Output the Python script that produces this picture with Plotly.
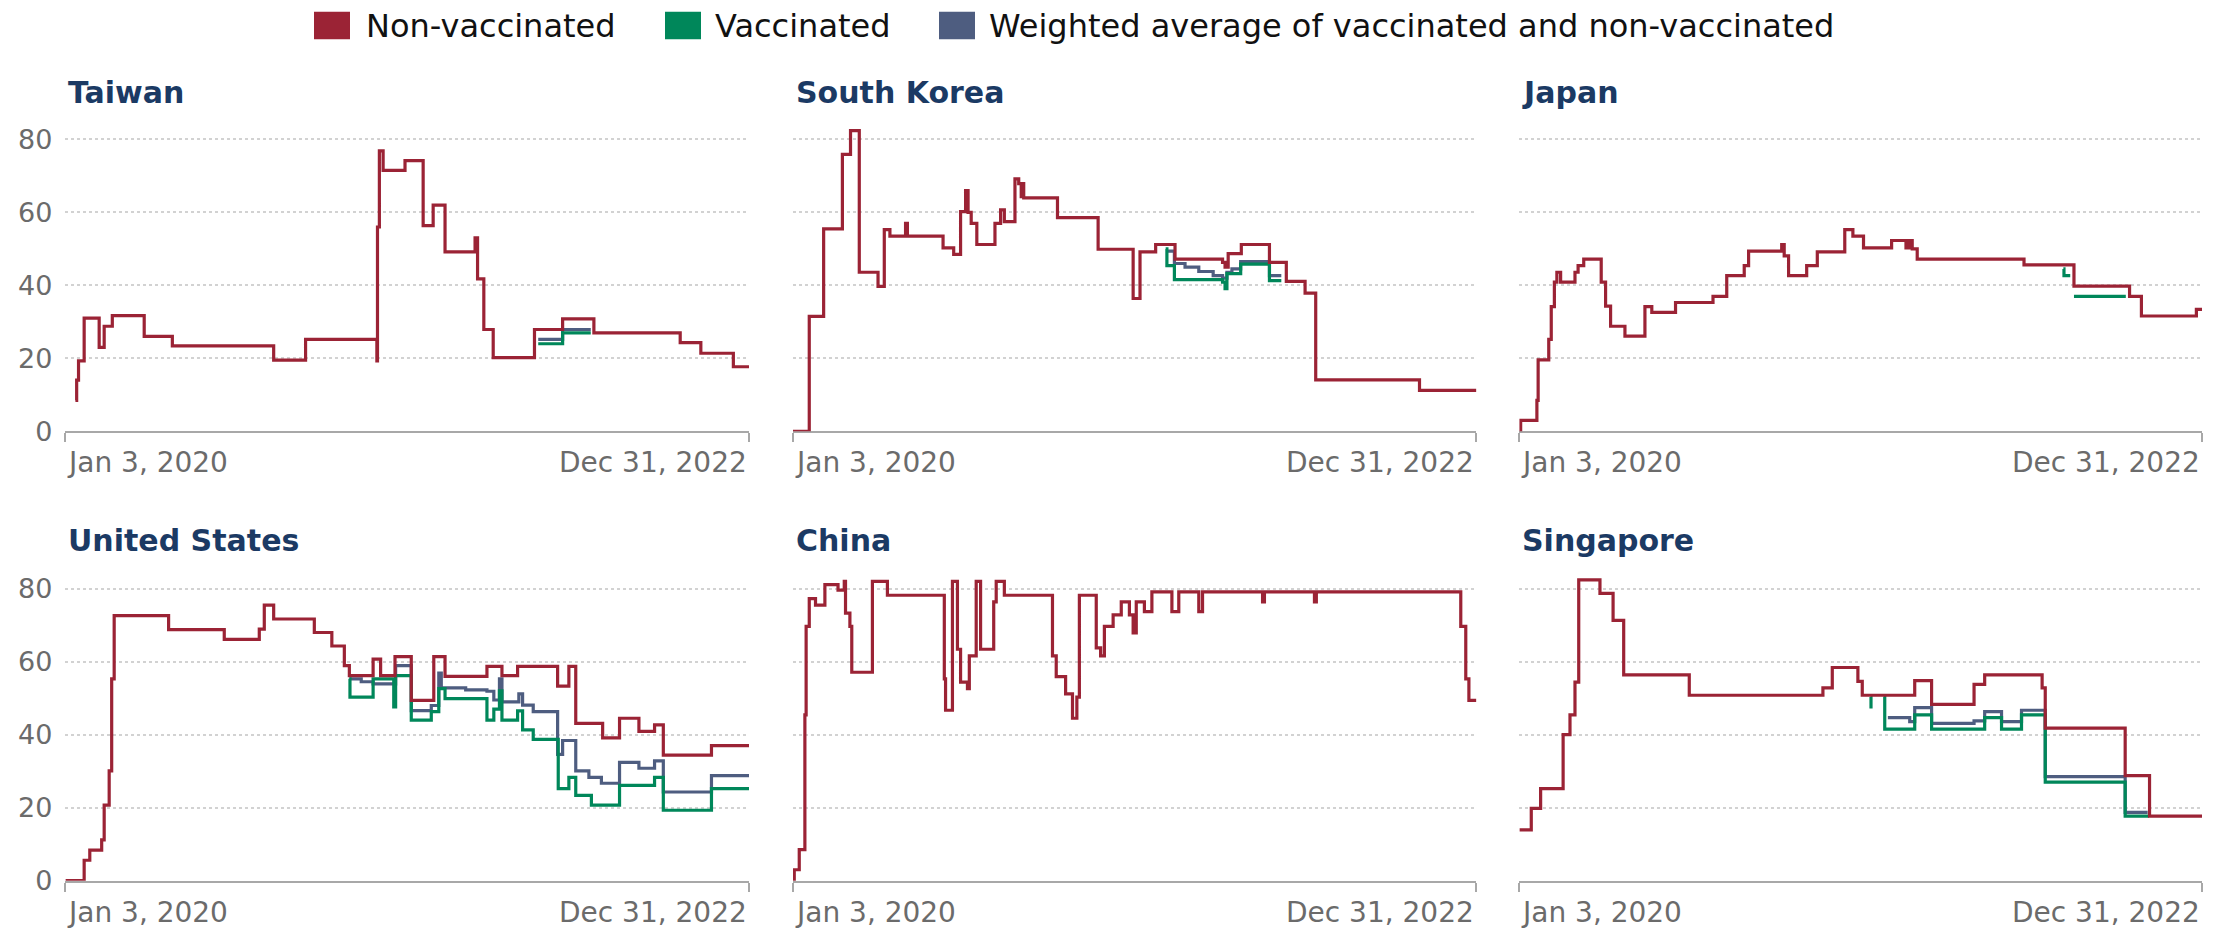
import pandas as pd
import plotly.graph_objects as go
from plotly.subplots import make_subplots

# ---------------- data (x = days since Jan 3, 2020) ----------------
START = "2020-01-03"
END = "2022-12-31"

countries = ["Taiwan", "South Korea", "Japan", "United States", "China", "Singapore"]
series_names = ["Non-vaccinated", "Vaccinated", "Weighted average of vaccinated and non-vaccinated"]
x_tick_labels = ["Jan 3, 2020", "Dec 31, 2022"]
y_ticks = [0, 20, 40, 60, 80]

tw_day = [16, 18, 21, 30, 54, 62, 75, 126, 171, 333, 384, 498, 499, 502, 508, 543, 572, 588, 607, 655, 659, 669, 684, 750, 795, 845, 983, 1016, 1068, 1093]
tw_non = [8.5, 14, 19.3, 31, 23, 28.8, 31.7, 26, 23.4, 19.5, 25.2, 19.3, 56, 76.9, 71.5, 74.2, 56.4, 62, 49.2, 53, 41.8, 27.9, 20.2, 27.9, 30.8, 27, 24.3, 21.4, 17.7, 17.7]
tw_vac_day = [756, 795, 840]
tw_vac = [24, 27, 27]
tw_avg_day = [756, 795, 840]
tw_avg = [25.2, 27.9, 27.9]

kr_day = [0, 26, 49, 79, 92, 106, 136, 146, 155, 180, 183, 240, 257, 268, 276, 280, 285, 294, 323, 332, 338, 355, 361, 365, 367, 369, 423, 488, 544, 555, 580, 611, 687, 691, 696, 717, 762, 789, 819, 836, 1002, 1093]
kr_non = [0, 31.5, 55.5, 75.9, 82.4, 43.6, 39.7, 55.3, 53.5, 57, 53.5, 50.3, 48.5, 60.2, 66, 60, 57, 51.2, 57, 60.7, 57.5, 69.2, 67.9, 64.3, 67.9, 64, 58.6, 49.9, 36.4, 49.2, 51.2, 47.2, 46.3, 45, 48.7, 51.2, 46.3, 41.1, 37.9, 14.1, 11.2, 11.2]
kr_vac_day = [596, 598, 610, 687, 691, 694, 716, 762, 781]
kr_vac = [50, 45.4, 41.6, 40.9, 39.1, 43.2, 45.8, 41.3, 41.3]
kr_avg_day = [598, 610, 627, 649, 672, 687, 694, 702, 716, 762, 781]
kr_avg = [49.4, 46, 45, 43.8, 42.7, 42, 43.6, 44.5, 46.5, 42.7, 42.7]

jp_day = [0, 2, 28, 30, 47, 51, 56, 60, 66, 89, 94, 103, 131, 138, 146, 169, 201, 212, 250, 310, 332, 360, 367, 420, 424, 431, 460, 477, 521, 534, 551, 596, 619, 624, 629, 637, 808, 888, 977, 996, 1084, 1093]
jp_non = [0, 3, 8.5, 19.6, 25.2, 34.2, 40.9, 43.6, 40.9, 43.6, 45.4, 47.2, 40.9, 34.3, 28.8, 26.1, 34.2, 32.6, 35.3, 37, 42.7, 45.4, 49.4, 51.2, 48.1, 42.7, 45.4, 49.2, 55.3, 53.5, 50.3, 52.3, 50.3, 52.3, 50, 47.2, 45.6, 39.8, 37, 31.6, 33.4, 33.4]
jp_vac_day = [871, 872, 882, None, 888, 971]
jp_vac = [44.5, 42.7, 42.7, None, 37, 37]
jp_avg_day = []
jp_avg = []

us_day = [0, 30, 39, 58, 62, 70, 74, 78, 165, 254, 310, 318, 333, 398, 426, 446, 454, 492, 504, 527, 553, 589, 607, 674, 698, 723, 787, 805, 816, 859, 886, 917, 942, 956, 1033, 1093]
us_non = [0, 5.6, 8.4, 11.2, 20.7, 30.1, 55.3, 72.6, 68.8, 66.1, 68.9, 75.5, 71.7, 68, 64.3, 58.9, 56.2, 60.7, 56.2, 61.4, 49.4, 61.4, 56, 58.7, 56.2, 58.7, 53.3, 58.7, 43.1, 39.1, 44.5, 40.9, 42.7, 34.4, 37, 37]
us_vac_day = [454, 455, 492, 525, 528, 553, 585, 597, 607, 674, 685, 694, 698, 723, 731, 748, 788, 805, 816, 841, 886, 942, 956, 1033, 1093]
us_vac = [55.3, 50.3, 55.3, 47.6, 56.2, 44, 46.3, 52.6, 49.9, 44, 47, 52, 44, 46.5, 41.3, 38.7, 25.2, 28.3, 23.4, 20.7, 26.1, 28.3, 19.3, 25.2, 25.2]
us_avg_day = [454, 473, 492, 528, 553, 585, 597, 601, 640, 674, 685, 694, 698, 725, 731, 748, 787, 795, 816, 837, 857, 886, 917, 942, 956, 1033, 1093]
us_avg = [55.3, 54.5, 53.9, 58.9, 46.6, 48, 56.9, 52.8, 52.3, 51.9, 49.5, 55.3, 49, 51.2, 48.1, 46.3, 34.6, 38.4, 30.1, 28.3, 26.7, 32.4, 30.8, 32.8, 24.3, 28.8, 28.8]

cn_day = [0, 2, 10, 19, 21, 26, 36, 51, 72, 82, 84, 91, 94, 127, 151, 242, 244, 255, 263, 268, 279, 282, 293, 300, 321, 325, 338, 415, 421, 436, 447, 454, 458, 485, 492, 498, 512, 525, 538, 544, 549, 562, 574, 606, 617, 649, 655, 751, 754, 834, 837, 1068, 1076, 1081, 1093]
cn_non = [0, 3, 8.5, 45.4, 69.7, 77.3, 75.5, 81.1, 79.6, 82, 73.3, 69.7, 57.1, 82, 78.2, 55.3, 46.7, 82, 63.4, 54.4, 52.6, 61.6, 82, 63.4, 76.4, 82, 78.2, 61.6, 55.9, 51.2, 44.5, 50.3, 78.2, 63.8, 61.6, 69.7, 72.8, 76.4, 72.8, 67.9, 76.4, 73.7, 79.1, 73.7, 79.1, 73.7, 79.1, 76.4, 79.1, 76.4, 79.1, 69.7, 55.3, 49.4, 49.4]
cn_vac_day = []
cn_vac = []
cn_avg_day = []
cn_avg = []

sg_day = [0, 19, 34, 70, 81, 89, 95, 129, 150, 167, 272, 486, 501, 542, 549, 633, 660, 728, 745, 837, 842, 970, 1009, 1093]
sg_non = [13.9, 19.8, 25.2, 40, 45.4, 54.4, 82.4, 78.7, 71.3, 56.4, 50.8, 52.8, 58.4, 54.6, 50.8, 54.8, 48.3, 53.8, 56.4, 52.8, 41.8, 28.8, 17.7, 17.7]
sg_vac_day = [562, 563, None, 583, 585, 633, 660, 745, 772, 804, 842, 970, 1008]
sg_vac = [50.3, 47.2, None, 50.3, 41.5, 45.4, 41.5, 44.7, 41.5, 45.4, 27, 17.7, 17.7]
sg_avg_day = [590, 625, 633, 660, 728, 745, 772, 804, 842, 970, 1006]
sg_avg = [44.7, 43.6, 47.4, 43.1, 43.8, 46.3, 43.6, 46.7, 28.5, 18.7, 18.7]

panel_data = [
    (tw_day, tw_non, tw_vac_day, tw_vac, tw_avg_day, tw_avg),
    (kr_day, kr_non, kr_vac_day, kr_vac, kr_avg_day, kr_avg),
    (jp_day, jp_non, jp_vac_day, jp_vac, jp_avg_day, jp_avg),
    (us_day, us_non, us_vac_day, us_vac, us_avg_day, us_avg),
    (cn_day, cn_non, cn_vac_day, cn_vac, cn_avg_day, cn_avg),
    (sg_day, sg_non, sg_vac_day, sg_vac, sg_avg_day, sg_avg),
]

# ---------------- style ----------------
W, H = 2225, 938
RED = "#9b2335"
GREEN = "#00875a"
BLUE = "#4e5d80"
TITLE_C = "#1b3a64"
TICK_C = "#6b6b6b"
FONT = "DejaVu Sans, Arial, sans-serif"

COL_X = [(65.4, 749.0), (793.0, 1476.4), (1519.4, 2202.0)]   # px
ROW_Y = [(123.2, 438.3), (579.7, 895.0)]                      # px (top, bottom)
TITLE_Y = [94, 549]
Y_MAX = 85

t0 = pd.Timestamp(START)


def to_dates(days):
    return [None if d is None else (t0 + pd.Timedelta(days=d)).strftime("%Y-%m-%d") for d in days]


fig = make_subplots(rows=2, cols=3)

for i, (name, (d_non, v_non, d_vac, v_vac, d_avg, v_avg)) in enumerate(zip(countries, panel_data)):
    r, c = i // 3 + 1, i % 3 + 1
    for d, v, col, nm in ((d_avg, v_avg, BLUE, series_names[2]),
                          (d_vac, v_vac, GREEN, series_names[1]),
                          (d_non, v_non, RED, series_names[0])):
        if not d:
            continue
        fig.add_trace(go.Scatter(x=to_dates(d), y=v, mode="lines", name=nm,
                                 line=dict(color=col, width=3.2, shape="hv"),
                                 connectgaps=False, cliponaxis=False, showlegend=False,
                                 hoverinfo="skip"), row=r, col=c)

annotations = []
shapes = []
for i, name in enumerate(countries):
    r, c = i // 3, i % 3
    k = "" if i == 0 else str(i + 1)
    x0, x1 = COL_X[c]
    ytop, ybot = ROW_Y[r]
    fig.layout["xaxis" + k].update(
        domain=[x0 / W, x1 / W], type="date", range=[START, END],
        showgrid=False, showline=True, linecolor="#a8a8a8", linewidth=2,
        tickmode="array", tickvals=[START, END], ticks="outside", ticklen=9,
        tickwidth=2, tickcolor="#a8a8a8", showticklabels=False,
        zeroline=False, layer="below traces", fixedrange=True)
    fig.layout["yaxis" + k].update(
        domain=[1 - ybot / H, 1 - ytop / H], range=[0, Y_MAX],
        tickmode="array", tickvals=y_ticks, ticktext=[str(t) for t in y_ticks],
        showgrid=True, gridcolor="#d2d2d2", gridwidth=1.5, griddash="dot",
        zeroline=False, showline=False, ticks="",
        showticklabels=(c == 0), ticklabelstandoff=12,
        tickfont=dict(family=FONT, size=27, color=TICK_C),
        layer="below traces", fixedrange=True)
    # panel title
    annotations.append(dict(text="<b>%s</b>" % name, xref="paper", yref="paper",
                            x=(x0 + 1) / W, y=1 - TITLE_Y[r] / H, xanchor="left", yanchor="middle",
                            showarrow=False, font=dict(family=FONT, size=30, color=TITLE_C)))
    # x tick labels (first left aligned, last right aligned)
    xr = "x" + k
    yr = "y" + k + " domain"
    annotations.append(dict(text=x_tick_labels[0], xref=xr, yref=yr, x=START, y=0,
                            xanchor="left", yanchor="top", yshift=-13, showarrow=False,
                            font=dict(family=FONT, size=28, color=TICK_C)))
    annotations.append(dict(text=x_tick_labels[1], xref=xr, yref=yr, x=END, y=0,
                            xanchor="right", yanchor="top", yshift=-13, showarrow=False,
                            font=dict(family=FONT, size=28, color=TICK_C)))

# legend (drawn manually: square swatches + labels)
legend_items = [(RED, 314, 364), (GREEN, 665, 713), (BLUE, 939, 987)]
for (col, sx, tx), nm in zip(legend_items, series_names):
    shapes.append(dict(type="rect", xref="paper", yref="paper",
                       x0=sx / W, x1=(sx + 36) / W, y0=1 - 40 / H, y1=1 - 12 / H,
                       fillcolor=col, line=dict(width=0)))
    annotations.append(dict(text=nm, xref="paper", yref="paper", x=tx / W, y=1 - 26 / H,
                            xanchor="left", yanchor="middle", showarrow=False,
                            font=dict(family=FONT, size=32, color="#111111")))

fig.update_layout(
    width=W, height=H, autosize=False,
    margin=dict(l=0, r=0, t=0, b=0),
    paper_bgcolor="white", plot_bgcolor="white",
    showlegend=False,
    annotations=annotations, shapes=shapes,
    font=dict(family=FONT),
)

fig.write_html("out.html", config={"displayModeBar": False},
               post_script="document.body.style.margin='0';document.body.style.overflow='hidden';")
